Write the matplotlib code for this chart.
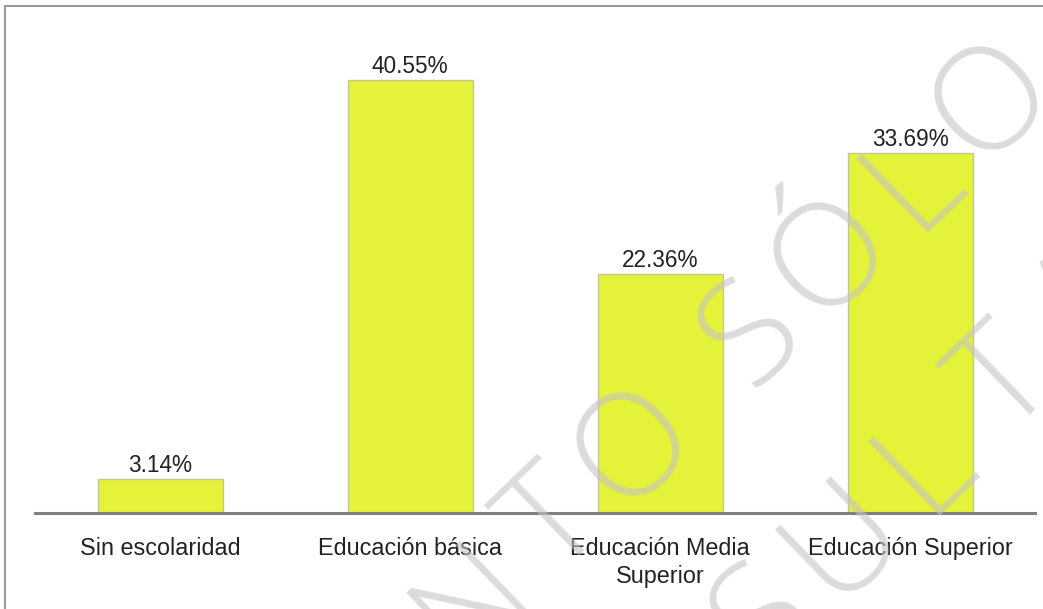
import math
import matplotlib
matplotlib.use("Agg")
import matplotlib.pyplot as plt
from matplotlib.patches import Rectangle

categories = ["Sin escolaridad", "Educación básica", "Educación Media\nSuperior", "Educación Superior"]
values = [3.14, 40.55, 22.36, 33.69]
value_labels = ["3.14%", "40.55%", "22.36%", "33.69%"]

W, H = 1043, 609
fig = plt.figure(figsize=(W / 100, H / 100), dpi=100)
fig.patch.set_facecolor("white")

# outer frame (cut off at right and bottom)
fig.patches.append(Rectangle((4.5 / W, -0.1), 1.2, (H - 5.5) / H + 0.1,
                             transform=fig.transFigure, fill=False,
                             edgecolor="#9a9a9a", linewidth=1.5, zorder=0))

ax_left, ax_right, ax_bottom, ax_top = 35, 1035, 513, 20
ax = fig.add_axes([ax_left / W, (H - ax_bottom) / H,
                   (ax_right - ax_left) / W, (ax_bottom - ax_top) / H])
ax.set_xlim(-0.5, len(categories) - 0.5)
ax.set_ylim(0, (ax_bottom - ax_top) / 10.68)
ax.patch.set_alpha(0)

x = list(range(len(categories)))
ax.bar(x, values, width=0.5, color="#e4f23a", edgecolor="#c2c79a", linewidth=1.0, zorder=2)
for xi, v, lab in zip(x, values, value_labels):
    ax.text(xi, v + 0.2, lab, ha="center", va="bottom", fontsize=16.3,
            family="Liberation Sans", color="#222222", zorder=3)

for s in ["top", "right", "left"]:
    ax.spines[s].set_visible(False)
ax.spines["bottom"].set_color("#808080")
ax.spines["bottom"].set_linewidth(2.2)
ax.set_yticks([])
ax.set_xticks(x)
ax.set_xticklabels(categories, fontsize=16.8, family="Liberation Sans", color="#222222",
                   linespacing=1.3)
ax.tick_params(axis="x", length=0, pad=17)

# watermark: letters laid along a 44-degree line
ang = 44
u = (math.cos(math.radians(ang)), -math.sin(math.radians(ang)))   # along baseline (image px)
up = (-math.sin(math.radians(ang)), -math.cos(math.radians(ang)))  # letter "up" (image px)
cap = 105
step, space = 112, 50
wm_kw = dict(rotation=ang, rotation_mode="anchor", fontsize=104, color="#c4c4c4",
             alpha=0.6, family="Open Sans", fontweight="light", zorder=10,
             ha="center", va="baseline")


def watermark(word, ref_index, ref_center):
    pos, s = [], 0.0
    for ch in word:
        if ch == " ":
            s += space
            pos.append(None)
            continue
        pos.append(s)
        s += step
    s0 = pos[ref_index]
    for ch, p in zip(word, pos):
        if p is None:
            continue
        d = p - s0
        cx = ref_center[0] + d * u[0]
        cy = ref_center[1] + d * u[1]
        bx = cx - up[0] * cap / 2
        by = cy - up[1] * cap / 2
        fx, fy = bx / W, 1 - by / H
        if -0.15 < fx < 1.15 and -0.2 < fy < 1.2:
            fig.text(fx, fy, ch, **wm_kw)


watermark("DOCUMENTO SÓLO", 7, (545, 515))
watermark("PARA CONSULTA", 9, (835, 530))

fig.savefig("out.png", dpi=100, facecolor="white")
